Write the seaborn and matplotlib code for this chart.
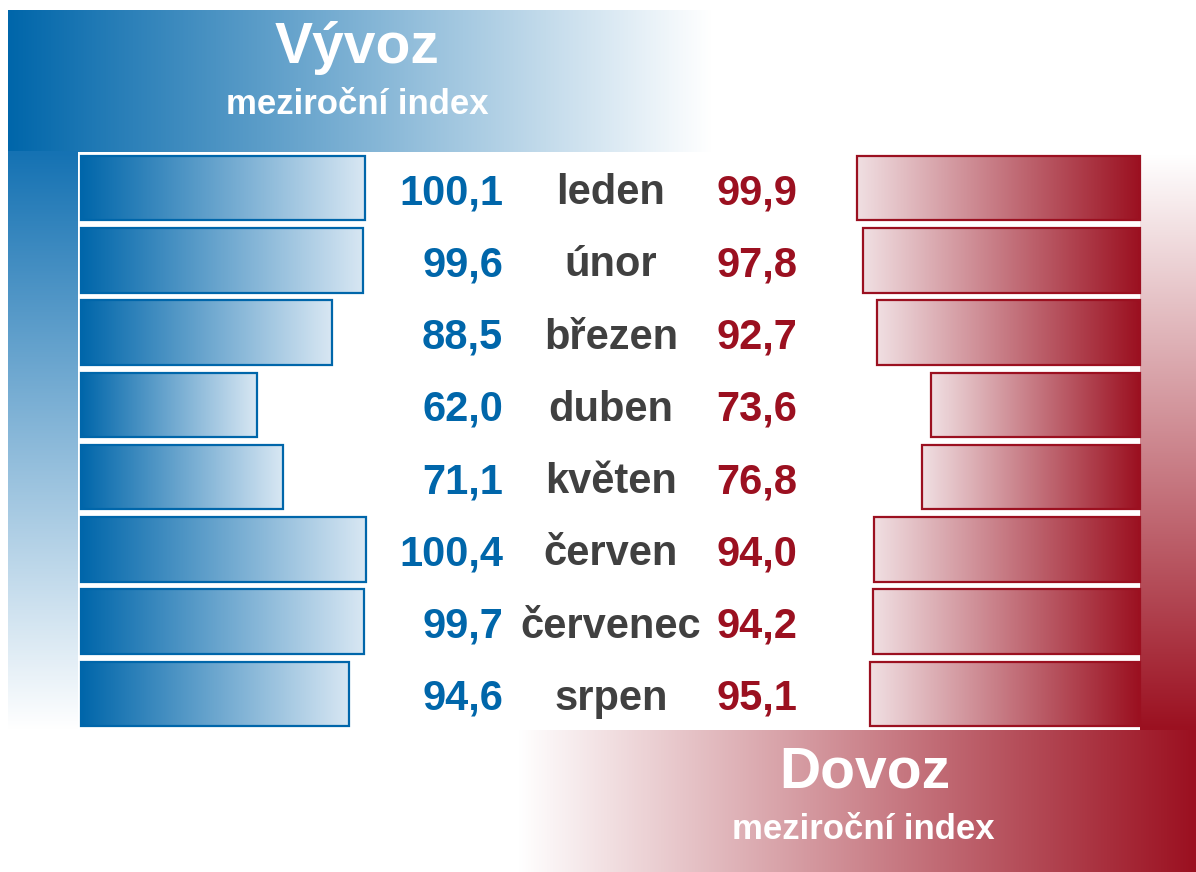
import numpy as np
import seaborn as sns
import matplotlib.pyplot as plt
from matplotlib.colors import LinearSegmentedColormap
from matplotlib.transforms import blended_transform_factory, offset_copy

# data
months = ['leden', 'únor', 'březen', 'duben', 'květen', 'červen', 'červenec', 'srpen']
vyvoz = [100.1, 99.6, 88.5, 62.0, 71.1, 100.4, 99.7, 94.6]
dovoz = [99.9, 97.8, 92.7, 73.6, 76.8, 94.0, 94.2, 95.1]

BLUE = '#0066aa'
RED = '#9b1020'
GREY = '#404040'

sns.set_theme(style='white')
plt.rcParams['font.family'] = ['Liberation Sans', 'DejaVu Sans']

fig = plt.figure(figsize=(11.96, 8.72), dpi=100)

# background decoration in pixel coords
bg = fig.add_axes([0, 0, 1, 1], zorder=0)
bg.axis('off')

ramp = np.linspace(0, 1, 256)
blue_fade = LinearSegmentedColormap.from_list('bf', [BLUE, '#ffffff'])
red_fade = LinearSegmentedColormap.from_list('rf', ['#ffffff', RED])
bg.imshow(ramp[None, :], cmap=blue_fade, extent=[8, 712, 152, 10], aspect='auto')
bg.imshow(ramp[:, None], cmap=LinearSegmentedColormap.from_list('bv', ['#1572b3', '#ffffff']),
          extent=[8, 78, 730, 152], aspect='auto')
bg.imshow(ramp[:, None], cmap=red_fade, extent=[1140, 1196, 730, 155], aspect='auto')
bg.imshow(ramp[None, :], cmap=red_fade, extent=[518, 1196, 872, 730], aspect='auto')
bg.set_xlim(0, 1196)
bg.set_ylim(872, 0)

bg.text(357, 48, 'Vývoz', color='white', fontsize=41, fontweight='bold', ha='center', va='center')
bg.text(357, 105, 'meziroční index', color='white', fontsize=25, fontweight='bold', ha='center', va='center')
bg.text(865, 772, 'Dovoz', color='white', fontsize=41, fontweight='bold', ha='center', va='center')
bg.text(863, 829, 'meziroční index', color='white', fontsize=25, fontweight='bold', ha='center', va='center')

XMAX = 300 / 2.835
ax_l = fig.add_axes([81 / 1196, 142 / 872, 300 / 1196, 578 / 872], zorder=1)
ax_r = fig.add_axes([840 / 1196, 142 / 872, 300 / 1196, 578 / 872], zorder=1)

sns.barplot(x=vyvoz, y=months, ax=ax_l, orient='h', color=BLUE, width=0.89)
sns.barplot(x=dovoz, y=months, ax=ax_r, orient='h', color=RED, width=0.89)


def gradient_bars(ax, cmap, edge):
    # column 0 of the image sits at the bar's base (x = 0)
    for p in ax.patches:
        x0, y0 = p.get_x(), p.get_y()
        w, h = p.get_width(), p.get_height()
        ax.imshow(ramp[None, :], cmap=cmap, extent=[x0, x0 + w, y0 + h, y0],
                  aspect='auto', zorder=1)
        p.set_facecolor('none')
        p.set_edgecolor(edge)
        p.set_linewidth(1.6)
        p.set_zorder(2)
        p.set_clip_on(False)


gradient_bars(ax_l, LinearSegmentedColormap.from_list('bl', [BLUE, '#d8e7f3']), BLUE)
gradient_bars(ax_r, LinearSegmentedColormap.from_list('rd', [RED, '#f0dfe2']), RED)

for ax in (ax_l, ax_r):
    ax.set_ylim(len(months) - 0.5, -0.5)
    ax.axis('off')
    ax.patch.set_alpha(0)
ax_l.set_xlim(0, XMAX)
ax_r.set_xlim(XMAX, 0)

# labels in the middle column, baseline a bit below row centre
tr = offset_copy(blended_transform_factory(bg.transData, ax_l.transData),
                 fig=fig, x=0, y=-16, units='dots')
fs = 30
for i, m in enumerate(months):
    bg.text(503, i, f'{vyvoz[i]:.1f}'.replace('.', ','), transform=tr, color=BLUE,
            fontsize=fs, fontweight='bold', ha='right', va='baseline')
    bg.text(611, i, m, transform=tr, color=GREY,
            fontsize=fs, fontweight='bold', ha='center', va='baseline')
    bg.text(716, i, f'{dovoz[i]:.1f}'.replace('.', ','), transform=tr, color=RED,
            fontsize=fs, fontweight='bold', ha='left', va='baseline')

fig.savefig('out.png', dpi=100)
